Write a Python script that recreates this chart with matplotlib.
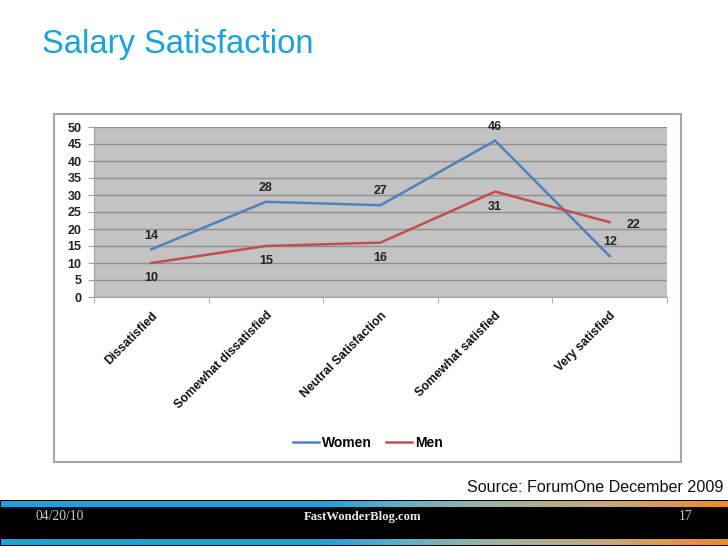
import numpy as np
import matplotlib
matplotlib.use("Agg")
import matplotlib.pyplot as plt
from matplotlib.patches import Rectangle
from matplotlib.colors import LinearSegmentedColormap

W, H, DPI = 728, 546, 100

categories = ["Dissatisfied", "Somewhat dissatisfied", "Neutral Satisfaction",
              "Somewhat satisfied", "Very satisfied"]
women = [14, 28, 27, 46, 12]
men = [10, 15, 16, 31, 22]
y_ticks = list(range(0, 55, 5))

TITLE_BLUE = "#1ba1db"
WOMEN_BLUE = "#4f81bd"
MEN_RED = "#c0504d"

###############################################################################

def px_rect(x0, y0, x1, y1):
    ''' Converts a pixel box (top-left origin) to figure fraction [l, b, w, h] '''
    return [x0 / W, 1 - y1 / H, (x1 - x0) / W, (y1 - y0) / H]

fig = plt.figure(figsize=(W / DPI, H / DPI), dpi=DPI)
fig.patch.set_facecolor("white")

# background layer in pixel coordinates
bg = fig.add_axes([0, 0, 1, 1], zorder=0)
bg.axis("off")

# chart frame
bg.add_patch(Rectangle((54, 114), 681 - 54, 462 - 114, fill=False,
                       edgecolor="#a6a6a6", lw=1.5))

# title
bg.text(42, 53, "Salary Satisfaction", color=TITLE_BLUE, fontsize=23.6,
        family="Liberation Sans", va="baseline", ha="left")

# source note
bg.text(723, 492, "Source: ForumOne December 2009", fontsize=11.6,
        family="Liberation Sans", color="#111111", ha="right", va="baseline")

# footer: black bar with gradient stripes
bg.add_patch(Rectangle((0, 500), W, 46, color="black", lw=0, zorder=1))
stripe_cmap = LinearSegmentedColormap.from_list(
    "stripe", [(0.0, "#1ba1db"), (0.44, "#1ba1db"), (0.55, "#5fb0c8"),
               (0.68, "#a0b4a0"), (0.84, "#c8a878"), (1.0, "#f08a2a")])
grad = np.linspace(0, 1, 400)[None, :]
bg.imshow(grad, cmap=stripe_cmap, extent=(1, W, 507, 501), aspect="auto", zorder=2)
bg.imshow(grad, cmap=stripe_cmap, extent=(1, W, 545, 539), aspect="auto", zorder=2)
bg.text(35, 517, "04/20/10", color="#c8c8c8", fontsize=9.8,
        family="Liberation Serif", ha="left", va="center", zorder=3)
bg.text(363, 517, "FastWonderBlog.com", color="#e8e8e8", fontsize=9.2,
        family="Liberation Serif", fontweight="bold", ha="center", va="center",
        zorder=3)
bg.text(686, 517, "17", color="#c8c8c8", fontsize=9.8,
        family="Liberation Serif", ha="center", va="center", zorder=3)
bg.set_xlim(0, W)
bg.set_ylim(H, 0)

###############################################################################

ax = fig.add_axes(px_rect(94, 127, 667, 297), zorder=2)
x = np.arange(len(categories))
ax.set_facecolor("#c3c3c3")
ax.set_xlim(-0.5, len(categories) - 0.5)
ax.set_ylim(0, 50)
ax.set_yticks(y_ticks)
ax.yaxis.grid(True, color="#8f8f8f", lw=1)
ax.set_axisbelow(True)

for side in ["top", "right"]:
    ax.spines[side].set_visible(False)
ax.spines["left"].set_color("#a0a0a0")
ax.spines["bottom"].set_color("#a0a0a0")

ax.plot(x, women, color=WOMEN_BLUE, lw=1.8, label="Women")
ax.plot(x, men, color=MEN_RED, lw=1.8, label="Men")

lbl = dict(fontsize=9, fontweight="bold", color="#222222",
           family="Liberation Sans", textcoords="offset points")
for i, v in enumerate(women):
    ax.annotate(str(v), (x[i], v), xytext=(0, 10), ha="center", va="center", **lbl)
for i, v in enumerate(men):
    if i == len(men) - 1:
        ax.annotate(str(v), (x[i], v), xytext=(17, -2), ha="center", va="center", **lbl)
    else:
        ax.annotate(str(v), (x[i], v), xytext=(0, -11), ha="center", va="center", **lbl)

ax.set_xticks(x)
ax.set_xticklabels(categories, rotation=45, ha="right", rotation_mode="anchor",
                   fontsize=8.8, fontweight="bold", family="Liberation Sans",
                   color="#111111")
ax.set_xticks(np.arange(-0.5, len(categories), 1), minor=True)
ax.tick_params(axis="x", which="major", length=0, pad=9)
ax.tick_params(axis="x", which="minor", length=4, color="#a0a0a0", direction="out")
ax.tick_params(axis="y", length=4, color="#a0a0a0", pad=5)
for t in ax.get_yticklabels():
    t.set_fontsize(9)
    t.set_fontweight("bold")
    t.set_family("Liberation Sans")
    t.set_color("#222222")

leg = ax.legend(loc="center", bbox_to_anchor=(368 / W, 1 - 443 / H),
                bbox_transform=fig.transFigure, ncol=2, frameon=False,
                handlelength=1.9, handletextpad=0.2, columnspacing=1.0,
                prop=dict(family="Liberation Sans", weight="bold", size=10))

fig.savefig("out.png", dpi=DPI)
